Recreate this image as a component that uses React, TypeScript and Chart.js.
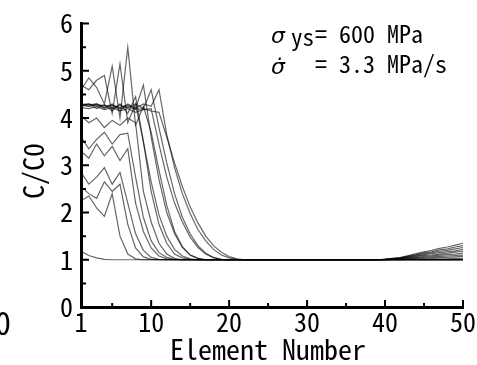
import React, { useEffect, useRef } from 'react';
import { Chart, registerables } from 'chart.js';

Chart.register(...registerables);

// C/C0 values for elements 1..n of each curve (curves leave the plateau one after another)
const head00 = [1.18, 1.09, 1.04, 1.01, 1.0];
const head01 = [2.25, 2.35, 2.1, 1.92, 2.4, 1.5, 1.12, 1.02, 1.0];
const head02 = [2.55, 2.4, 2.3, 2.65, 2.45, 2.6, 1.75, 1.25, 1.06, 1.01, 1.0];
const head03 = [2.85, 2.6, 2.75, 2.95, 2.6, 2.85, 2.2, 1.55, 1.2, 1.05, 1.01, 1.0];
const head04 = [3.3, 3.15, 3.45, 3.2, 3.4, 3.1, 3.35, 2.2, 1.6, 1.25, 1.08, 1.02, 1.0];
const head05 = [3.6, 3.35, 3.55, 3.7, 3.45, 3.65, 3.68, 2.75, 1.9, 1.4, 1.15, 1.05, 1.01, 1.0];
const head06 = [4.05, 3.9, 4.0, 3.8, 3.95, 3.85, 4.0, 3.9, 2.45, 1.8, 1.35, 1.12, 1.03, 1.0];
const head07 = [4.7, 4.6, 4.8, 4.9, 4.1, 5.15, 3.9, 4.3, 3.5, 2.45, 1.75, 1.35, 1.12, 1.04, 1.01, 1.0];
const head08 = [4.6, 4.85, 4.65, 4.3, 5.1, 4.0, 5.5, 3.85, 4.25, 3.7, 2.9, 2.15, 1.6, 1.28, 1.1, 1.03, 1.0];
const head09 = [4.25, 4.3, 4.2, 4.28, 4.15, 4.3, 4.1, 4.45, 3.5, 2.65, 1.95, 1.5, 1.22, 1.08, 1.02, 1.0];
const head10 = [4.3, 4.25, 4.3, 4.2, 4.3, 4.15, 4.3, 4.2, 4.7, 3.6, 2.7, 2.0, 1.55, 1.26, 1.1, 1.03, 1.0];
const head11 = [4.28, 4.3, 4.25, 4.28, 4.2, 4.28, 4.22, 4.3, 4.2, 4.6, 3.8, 3.05, 2.4, 1.9, 1.55, 1.3, 1.14, 1.05, 1.01, 1.0];
const head12 = [4.3, 4.28, 4.3, 4.25, 4.28, 4.22, 4.28, 4.2, 4.3, 4.25, 4.6, 3.65, 2.95, 2.4, 1.98, 1.64, 1.4, 1.22, 1.1, 1.04, 1.01, 1.0];
const head13 = [4.27, 4.25, 4.28, 4.22, 4.26, 4.2, 4.24, 4.18, 4.2, 4.15, 4.12, 3.6, 3.05, 2.55, 2.12, 1.78, 1.5, 1.3, 1.16, 1.07, 1.02, 1.0];
const head14 = [4.22, 4.2, 4.24, 4.18, 4.22, 4.15, 4.2, 4.12, 4.18, 4.2, 3.45, 2.75, 2.2, 1.8, 1.48, 1.26, 1.12, 1.04, 1.01, 1.0];

// C/C0 values for elements 39..50 (rise at the far end)
const tailStartElement = 39;
const tail06 = [1.0, 1.0, 1.0, 1.0, 1.01, 1.01, 1.01, 1.02, 1.02, 1.02, 1.03, 1.03];
const tail07 = [1.0, 1.0, 1.01, 1.01, 1.02, 1.03, 1.03, 1.04, 1.05, 1.05, 1.06, 1.07];
const tail08 = [1.0, 1.0, 1.01, 1.01, 1.03, 1.04, 1.05, 1.06, 1.07, 1.08, 1.09, 1.1];
const tail09 = [1.0, 1.0, 1.01, 1.02, 1.04, 1.05, 1.07, 1.08, 1.1, 1.11, 1.12, 1.14];
const tail10 = [1.0, 1.01, 1.02, 1.03, 1.05, 1.07, 1.09, 1.1, 1.12, 1.14, 1.16, 1.18];
const tail11 = [1.0, 1.01, 1.02, 1.03, 1.06, 1.08, 1.11, 1.13, 1.15, 1.17, 1.19, 1.22];
const tail12 = [1.0, 1.01, 1.02, 1.04, 1.07, 1.1, 1.13, 1.15, 1.18, 1.2, 1.23, 1.26];
const tail13 = [1.0, 1.01, 1.03, 1.05, 1.09, 1.13, 1.17, 1.2, 1.24, 1.27, 1.31, 1.35];
const tail14 = [1.0, 1.01, 1.03, 1.04, 1.08, 1.11, 1.15, 1.17, 1.21, 1.23, 1.27, 1.3];
const flatEndValue = 1.0;
const lastElement = 50;

const heads = [head00, head01, head02, head03, head04, head05, head06, head07, head08, head09, head10, head11, head12, head13, head14];
const tails: (number[] | null)[] = [null, null, null, null, null, null, tail06, tail07, tail08, tail09, tail10, tail11, tail12, tail13, tail14];

const xTickValues = [1, 10, 20, 30, 40, 50];
const xMinorTicks = [5, 15, 25, 35, 45];
const yTickValues = [0, 1, 2, 3, 4, 5, 6];
const yMinorTicks = [0.5, 1.5, 2.5, 3.5, 4.5, 5.5];

const GOTH = '"Noto Sans Mono CJK JP", "Noto Sans CJK JP", "DejaVu Sans Condensed", sans-serif';

const decor = {
  id: 'decor',
  afterDraw(chart: any) {
    const { ctx, chartArea } = chart;
    const xs = chart.scales.x;
    const ys = chart.scales.y;
    ctx.save();
    ctx.strokeStyle = '#000';
    ctx.lineWidth = 2;
    ctx.beginPath();
    yTickValues.forEach((v) => {
      const p = ys.getPixelForValue(v);
      ctx.moveTo(chartArea.left, p);
      ctx.lineTo(chartArea.left + 8, p);
    });
    yMinorTicks.forEach((v) => {
      const p = ys.getPixelForValue(v);
      ctx.moveTo(chartArea.left, p);
      ctx.lineTo(chartArea.left + 5, p);
    });
    xTickValues.slice(1).forEach((v) => {
      const p = xs.getPixelForValue(v);
      ctx.moveTo(p, chartArea.bottom);
      ctx.lineTo(p, chartArea.bottom - 7);
    });
    xMinorTicks.forEach((v) => {
      const p = xs.getPixelForValue(v);
      ctx.moveTo(p, chartArea.bottom);
      ctx.lineTo(p, chartArea.bottom - 4);
    });
    ctx.stroke();

    ctx.fillStyle = '#000';
    ctx.textBaseline = 'alphabetic';
    ctx.textAlign = 'left';
    // annotation
    ctx.font = 'italic 22px "DejaVu Sans"';
    ctx.fillText('σ', 271, 43);
    ctx.font = '23px ' + GOTH;
    ctx.fillText('ys', 291, 46);
    ctx.font = '24px ' + GOTH;
    ctx.fillText('= 600 MPa', 315, 43);
    ctx.font = 'italic 22px "DejaVu Sans"';
    ctx.fillText('σ\u0307', 271, 74);
    ctx.font = '24px ' + GOTH;
    ctx.fillText('= 3.3 MPa/s', 315, 73);

    // axis titles
    ctx.font = '28px ' + GOTH;
    ctx.textAlign = 'center';
    ctx.textBaseline = 'alphabetic';
    ctx.fillText('Element Number', 268, 360);
    ctx.save();
    ctx.translate(44, 171);
    ctx.rotate(-Math.PI / 2);
    ctx.fillText('C/C0', 0, 0);
    ctx.restore();

    // clipped label of the neighbouring figure
    ctx.font = '32px ' + GOTH;
    ctx.textAlign = 'left';
    ctx.fillText('0', -5, 335);
    ctx.restore();
  },
};

export default function App() {
  const ref = useRef<HTMLCanvasElement>(null);
  useEffect(() => {
    const canvas = ref.current!;
    const datasets = heads.map((head, k) => {
      const pts = head.map((y, i) => ({ x: i + 1, y }));
      const tail = tails[k];
      if (tail) {
        tail.forEach((y, i) => pts.push({ x: tailStartElement + i, y }));
      } else {
        pts.push({ x: lastElement, y: flatEndValue });
      }
      return {
        data: pts,
        borderColor: 'rgba(0,0,0,0.6)',
        borderWidth: 1.2,
        pointRadius: 0,
        tension: 0,
        fill: false,
      };
    });
    const chart = new Chart(canvas, {
      type: 'line',
      data: { datasets },
      options: {
        responsive: false,
        animation: false,
        layout: { padding: { top: 23, right: 14, left: 0, bottom: 0 } },
        plugins: { legend: { display: false }, tooltip: { enabled: false } },
        scales: {
          x: {
            type: 'linear',
            min: 1,
            max: 50,
            afterBuildTicks: (s: any) => {
              s.ticks = xTickValues.map((v) => ({ value: v }));
            },
            afterFit: (s: any) => {
              s.height = 58;
            },
            grid: { display: false, drawTicks: false },
            border: { display: true, color: '#000', width: 3 },
            ticks: {
              color: '#000',
              font: { family: GOTH, size: 26 },
              padding: 0,
              maxRotation: 0,
              autoSkip: false,
            },
          },
          y: {
            type: 'linear',
            min: 0,
            max: 6,
            afterBuildTicks: (s: any) => {
              s.ticks = yTickValues.map((v) => ({ value: v }));
            },
            afterFit: (s: any) => {
              s.width = 81;
            },
            grid: { display: false, drawTicks: false },
            border: { display: true, color: '#000', width: 3 },
            ticks: {
              color: '#000',
              font: { family: GOTH, size: 26 },
              padding: 8,
              autoSkip: false,
            },
          },
        },
      } as any,
      plugins: [decor],
    });
    return () => chart.destroy();
  }, []);
  return (
    <div style={{ position: 'fixed', left: 0, top: 0, background: '#fff' }}>
      <canvas ref={ref} width={477} height={365} style={{ display: 'block' }} />
    </div>
  );
}
